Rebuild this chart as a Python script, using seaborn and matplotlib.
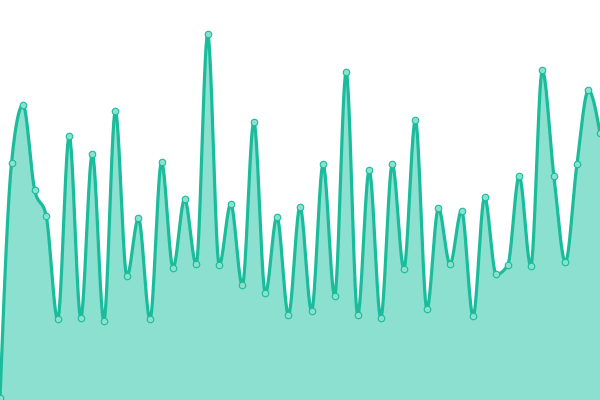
import numpy as np
import pandas as pd
import matplotlib
matplotlib.use("Agg")
import matplotlib.pyplot as plt
import seaborn as sns

# values (pixel height above bottom of a 400px chart)
index = list(range(53))
values = [2, 237.3, 295, 210.3, 184.3, 80.7, 264.3, 82.3, 246, 79.3,
          289, 123.7, 181.7, 80.7, 238, 132.3, 200.7, 135.7, 365.7, 135,
          196, 114.7, 278.3, 106.7, 183.3, 85, 193.3, 89, 235.7, 104.3,
          328, 85, 229.7, 82.3, 235.7, 131.3, 280, 91, 191.7, 136,
          189.3, 83.7, 202.7, 125.7, 134.7, 224, 134, 329.7, 224.3, 138,
          235.7, 309.7, 267]

LINE = "#1abc9c"
FILL = "#8be0cf"


def monotone_curve(x, y, n=30):
    x = np.asarray(x, float)
    y = np.asarray(y, float)
    h = np.diff(x)
    s = np.diff(y) / h
    t = np.zeros_like(y)
    for i in range(1, len(y) - 1):
        s0, s1 = s[i - 1], s[i]
        p = (s0 * h[i] + s1 * h[i - 1]) / (h[i - 1] + h[i])
        t[i] = (np.sign(s0) + np.sign(s1)) * min(abs(s0), abs(s1), 0.5 * abs(p))
    t[0] = (3 * s[0] - t[1]) / 2
    t[-1] = (3 * s[-1] - t[-2]) / 2
    xs, ys = [], []
    u = np.linspace(0, 1, n)
    for i in range(len(x) - 1):
        dx = h[i] / 3
        p0 = (x[i], y[i])
        p1 = (x[i] + dx, y[i] + dx * t[i])
        p2 = (x[i + 1] - dx, y[i + 1] - dx * t[i + 1])
        p3 = (x[i + 1], y[i + 1])
        b0 = (1 - u) ** 3
        b1 = 3 * (1 - u) ** 2 * u
        b2 = 3 * (1 - u) * u ** 2
        b3 = u ** 3
        xs.append(b0 * p0[0] + b1 * p1[0] + b2 * p2[0] + b3 * p3[0])
        ys.append(b0 * p0[1] + b1 * p1[1] + b2 * p2[1] + b3 * p3[1])
    return np.concatenate(xs), np.concatenate(ys)


df = pd.DataFrame({"i": index, "v": values})
cx, cy = monotone_curve(df["i"], df["v"])
curve = pd.DataFrame({"i": cx, "v": cy})

sns.set_theme(style="white")
fig = plt.figure(figsize=(6, 4), dpi=100)
ax = fig.add_axes([0, 0, 1, 1])
ax.fill_between(curve["i"], 0, curve["v"], color=FILL, lw=0)
sns.lineplot(data=curve, x="i", y="v", ax=ax, color=LINE, lw=2.3, sort=False)
sns.scatterplot(data=df, x="i", y="v", ax=ax, s=22, color=FILL,
                edgecolor=LINE, linewidth=0.8, zorder=5)
ax.set_xlim(0, 52)
ax.set_ylim(0, 400)
ax.axis("off")
fig.savefig("out.png", dpi=100)
